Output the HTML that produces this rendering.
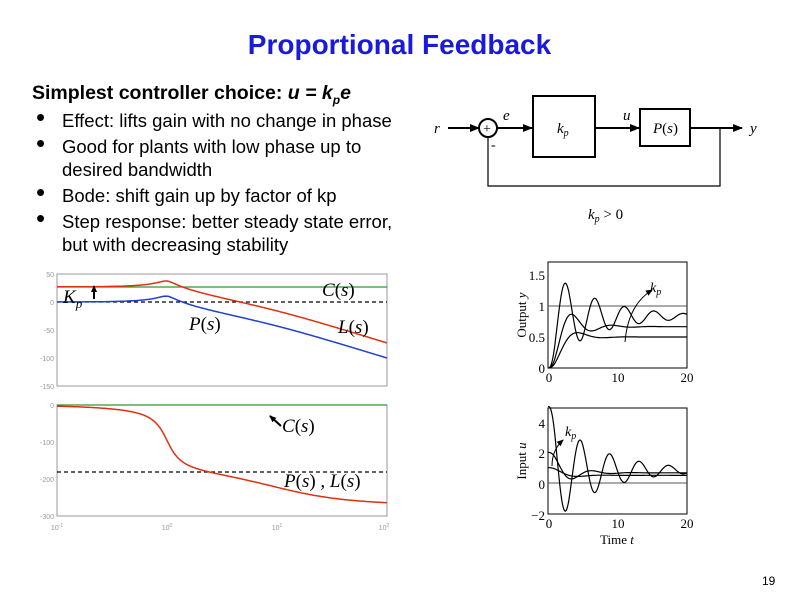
<!DOCTYPE html>
<html><head><meta charset="utf-8"><style>
body{margin:0;width:799px;height:599px;background:#fff;overflow:hidden;position:relative;font-family:"Liberation Sans",Arial,sans-serif}
.t{position:absolute;white-space:nowrap}
.b{position:absolute;left:40px;font-size:18.5px;white-space:nowrap}
.b span.d{position:absolute;left:-4px;font-size:26px;top:-8px}
.b .x{position:absolute;left:22px}
</style></head><body>
<div class="t" style="left:0;width:799px;text-align:center;top:29px;font-size:28px;font-weight:bold;color:#1a1adc">Proportional Feedback</div>
<div class="t" style="left:32px;top:82px;font-size:19.5px;font-weight:bold">Simplest controller choice: <i>u = k<sub style="font-size:12px">p</sub>e</i></div>
<div class="b" style="top:110px"><span class="d">•</span><span class="x">Effect: lifts gain with no change in phase</span></div>
<div class="b" style="top:136px"><span class="d">•</span><span class="x">Good for plants with low phase up to</span></div>
<div class="b" style="top:159px"><span class="x">desired bandwidth</span></div>
<div class="b" style="top:185px"><span class="d">•</span><span class="x">Bode: shift gain up by factor of kp</span></div>
<div class="b" style="top:211px"><span class="d">•</span><span class="x">Step response: better steady state error,</span></div>
<div class="b" style="top:234px"><span class="x">but with decreasing stability</span></div>
<div class="t" style="left:762px;top:574px;font-size:12px">19</div>

<svg width="799" height="599" style="position:absolute;left:0;top:0" font-family="Liberation Serif,serif">
<defs><marker id="ar" markerUnits="userSpaceOnUse" markerWidth="10" markerHeight="10" refX="9" refY="5" orient="auto"><path d="M0,1 L10,5 L0,9z" fill="#000"/></marker>
<marker id="as" markerUnits="userSpaceOnUse" markerWidth="7" markerHeight="7" refX="6" refY="3.5" orient="auto"><path d="M0,0.5 L7,3.5 L0,6.5z" fill="#000"/></marker></defs>
<!-- block diagram -->
<g stroke="#000" fill="none">
<line x1="448" y1="128" x2="479" y2="128" stroke-width="2" marker-end="url(#ar)"/>
<circle cx="488" cy="128" r="9" stroke-width="2"/>
<line x1="497" y1="128" x2="532" y2="128" stroke-width="2" marker-end="url(#ar)"/>
<rect x="533" y="96" width="62" height="61" stroke-width="2"/>
<line x1="595" y1="128" x2="639" y2="128" stroke-width="2" marker-end="url(#ar)"/>
<rect x="640" y="109" width="50" height="37" stroke-width="2"/>
<line x1="690" y1="128" x2="742" y2="128" stroke-width="2" marker-end="url(#ar)"/>
<polyline points="720,128 720,186 488,186 488,138" stroke-width="1.2"/>
</g>
<g font-style="italic" font-size="15">
<text x="434" y="133">r</text><text x="503" y="120">e</text><text x="623" y="120">u</text><text x="750" y="133">y</text>
<text x="557" y="133">k<tspan font-size="10" dy="3">p</tspan></text>
<text x="653" y="133">P<tspan font-style="normal">(</tspan>s<tspan font-style="normal">)</tspan></text>
<text x="588" y="219">k<tspan font-size="10" dy="3">p</tspan><tspan dy="-3" font-style="normal"> &gt; 0</tspan></text>
</g>
<text x="483" y="133" font-size="14">+</text><text x="491" y="149" font-size="14">-</text>

<!-- Bode -->
<g stroke="#999" fill="none"><rect x="57" y="274" width="330" height="112"/><rect x="57" y="405" width="330" height="111"/></g>
<g font-family="Liberation Sans,sans-serif" font-size="7" fill="#999" text-anchor="end">
<text x="54" y="277">50</text><text x="54" y="305">0</text><text x="54" y="333">-50</text><text x="54" y="361">-100</text><text x="54" y="389">-150</text>
<text x="54" y="408">0</text><text x="54" y="445">-100</text><text x="54" y="482">-200</text><text x="54" y="519">-300</text>
</g>
<g font-family="Liberation Sans,sans-serif" font-size="7" fill="#999" text-anchor="middle">
<text x="57" y="530">10<tspan font-size="5" dy="-3">-1</tspan></text><text x="167" y="530">10<tspan font-size="5" dy="-3">0</tspan></text><text x="277" y="530">10<tspan font-size="5" dy="-3">1</tspan></text><text x="384" y="530">10<tspan font-size="5" dy="-3">2</tspan></text>
</g>
<line x1="57" y1="287" x2="387" y2="287" stroke="#2a9a2a" stroke-width="1.2"/>
<line x1="57" y1="405" x2="387" y2="405" stroke="#2a9a2a" stroke-width="1.2"/>
<line x1="57" y1="302" x2="387" y2="302" stroke="#000" stroke-dasharray="4,3" stroke-width="1.2"/>
<line x1="57" y1="472" x2="387" y2="472" stroke="#000" stroke-dasharray="4,3" stroke-width="1.2"/>
<path id="pm" fill="none" stroke="#2040d0" stroke-width="1.5"/>
<path id="lm" fill="none" stroke="#e03010" stroke-width="1.5"/>
<path id="ph" fill="none" stroke="#e03010" stroke-width="1.5"/>
<g font-style="italic" font-size="19">
<text x="63" y="303">K<tspan font-size="13" dy="5">p</tspan></text>
<text x="322" y="296">C<tspan font-style="normal">(</tspan>s<tspan font-style="normal">)</tspan></text>
<text x="189" y="330">P<tspan font-style="normal">(</tspan>s<tspan font-style="normal">)</tspan></text>
<text x="338" y="333">L<tspan font-style="normal">(</tspan>s<tspan font-style="normal">)</tspan></text>
<text x="282" y="432">C<tspan font-style="normal">(</tspan>s<tspan font-style="normal">)</tspan></text>
<text x="284" y="487">P<tspan font-style="normal">(</tspan>s<tspan font-style="normal">)</tspan> , L<tspan font-style="normal">(</tspan>s<tspan font-style="normal">)</tspan></text>
</g>
<line x1="94" y1="299" x2="94" y2="286" stroke="#000" stroke-width="2" marker-end="url(#as)"/>
<line x1="281" y1="426" x2="270" y2="416" stroke="#000" stroke-width="2" marker-end="url(#as)"/>

<!-- step plots -->
<g stroke="#000" fill="none" stroke-width="1">
<rect x="548" y="262" width="139" height="106"/><rect x="548" y="408" width="139" height="106"/>
<line x1="548" y1="306" x2="687" y2="306" stroke="#555"/><line x1="548" y1="483" x2="687" y2="483" stroke="#555"/>
</g>
<path id="ys" fill="none" stroke="#000" stroke-width="1.2"/>
<path id="us" fill="none" stroke="#000" stroke-width="1.2"/>
<g font-size="13" text-anchor="end">
<text x="545" y="280">1.5</text><text x="545" y="311">1</text><text x="545" y="342">0.5</text><text x="545" y="373">0</text>
<text x="545" y="428">4</text><text x="545" y="458">2</text><text x="545" y="489">0</text><text x="545" y="520">−2</text>
</g>
<g font-size="13" text-anchor="middle">
<text x="549" y="382">0</text><text x="618" y="382">10</text><text x="687" y="382">20</text>
<text x="549" y="528">0</text><text x="618" y="528">10</text><text x="687" y="528">20</text>
<text x="617" y="544">Time <tspan font-style="italic">t</tspan></text>
</g>
<text transform="translate(526,315) rotate(-90)" font-size="13" text-anchor="middle">Output <tspan font-style="italic">y</tspan></text>
<text transform="translate(526,461) rotate(-90)" font-size="13" text-anchor="middle">Input <tspan font-style="italic">u</tspan></text>
<text x="650" y="292" font-size="14" font-style="italic">k<tspan font-size="10" dy="3">p</tspan></text>
<text x="565" y="436" font-size="14" font-style="italic">k<tspan font-size="10" dy="3">p</tspan></text>
<path d="M625,342 Q628,305 652,290" fill="none" stroke="#000" marker-end="url(#as)"/>
<path d="M552,466 Q552,450 563,440" fill="none" stroke="#000" marker-end="url(#as)"/>
</svg>
<script>
function X(w){return 57+110*(Math.log10(w)+1);}
var pm="",lm="",ph="";
for(var i=0;i<=300;i++){var lw=-1+i/100,w=Math.pow(10,lw);
var re=1-w*w,im=0.3*w;var m2=(re*re+im*im)*(1+0.01*w*w);
var db=-10*Math.log10(m2);
var p=-Math.atan2(0.45*w,re)*180/Math.PI-Math.atan(0.1*w)*180/Math.PI;
var x=X(w).toFixed(1);
pm+=(i?"L":"M")+x+","+(302-db*28/50).toFixed(1);
lm+=(i?"L":"M")+x+","+(302-(db+27)*28/50).toFixed(1);
ph+=(i?"L":"M")+x+","+(405-p*37/100).toFixed(1);}
document.getElementById("pm").setAttribute("d",pm);
document.getElementById("lm").setAttribute("d",lm);
document.getElementById("ph").setAttribute("d",ph);
var ys="",us="";
[1,2,5].forEach(function(k){var a=0,b=0,c=0,dt=0.002,py="",pu="";
for(var n=0;n<=10000;n++){var t=n*dt,u=k*(1-c);
if(n%50==0){var x=(548+t*6.95).toFixed(1);py+=(n?"L":"M")+x+","+(368-c*62).toFixed(1);pu+=(n?"L":"M")+x+","+(483-u*15.3).toFixed(1);}
var da=-a+u,db=-b+a,dc=-c+b;a+=da*dt;b+=db*dt;c+=dc*dt;}
ys+=py;us+=pu;});
document.getElementById("ys").setAttribute("d",ys);
document.getElementById("us").setAttribute("d",us);
</script>
</body></html>
